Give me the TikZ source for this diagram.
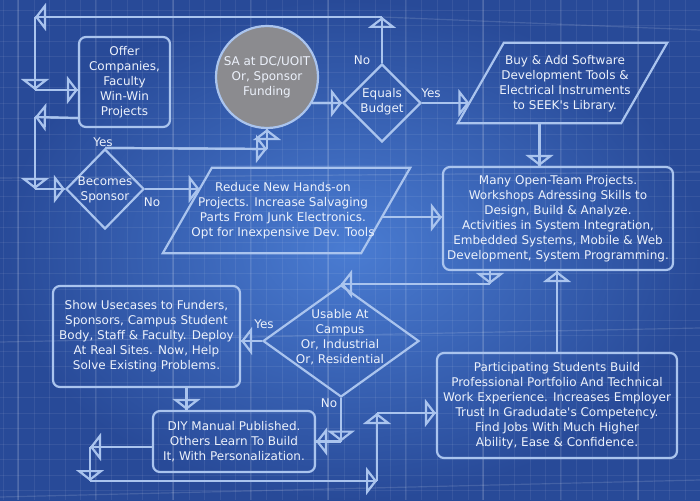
\documentclass[tikz,border=0pt]{standalone}
\usepackage{fontspec}
\setmainfont{DejaVu Sans}
\usetikzlibrary{shapes.geometric,arrows.meta,calc}
\definecolor{lc}{RGB}{170,196,238}
\definecolor{tc}{RGB}{236,241,251}
\definecolor{bgin}{RGB}{74,124,210}
\definecolor{bgout}{RGB}{40,74,152}
\definecolor{circfill}{RGB}{139,139,143}
\begin{document}
\begin{tikzpicture}[x=1pt,y=-1pt,
  every node/.style={text=tc,font=\fontsize{12}{15}\selectfont,align=center,inner sep=0pt},
  box/.style={draw=lc,line width=2.2pt,rounded corners=7pt},
  dia/.style={draw=lc,line width=2.2pt,diamond},
  parabody/.style={draw=none},
  paraline/.style={draw=lc,line width=2.2pt,line join=miter},
  conn/.style={draw=lc,line width=2.2pt,postaction={draw=lc,line width=2.2pt,-{Triangle[open,length=11pt,width=28pt]}}},
  gridmin/.style={white,opacity=0.07,line width=0.8pt},
  gridmaj/.style={white,opacity=0.13,line width=1.2pt},
]
\useasboundingbox (0,0) rectangle (700,500);
\shade[inner color=bgin,outer color=bgout] (0,0) rectangle (700,500);
\foreach \x in {3,18.5,...,700} \draw[gridmin] (\x,0) -- (\x,500);
\foreach \y in {10,25.5,...,500} \draw[gridmin] (0,\y) -- (700,\y);
\foreach \x in {18,95.5,...,700} \draw[gridmaj] (\x,0) -- (\x,500);
\draw[gridmaj] (0,178) -- (700,172);
\draw[gridmaj] (0,342) -- (700,328);
\draw[gridmaj] (382,17) -- (700,30);
\draw[gridmaj] (0,497) -- (700,480);

% nodes
\node[box,minimum width=91pt,minimum height=90pt] (offer) at (124.5,82) {Offer\\Companies,\\Faculty\\Win-Win\\Projects};
\node[circle,draw=lc,line width=2.2pt,fill=circfill,minimum size=102pt] (sa) at (267,77) {SA at DC/UOIT\\Or, Sponsor\\Funding};
\node[dia,minimum width=78pt,minimum height=78pt] (eq) at (382,103) {};
\node (eqt) at (382,102) {Equals\\Budget};

\node[parabody,minimum width=163pt,minimum height=80pt] (buy) at (562.5,83) {};
\coordinate (buyBL) at ($(buy.south west)+(-23,0)$);
\coordinate (buyBR) at ($(buy.south east)+(-23,0)$);
\coordinate (buyTR) at ($(buy.north east)+(23,0)$);
\coordinate (buyTL) at ($(buy.north west)+(23,0)$);
\draw[paraline] (buyBL) -- (buyBR) -- (buyTR) -- (buyTL) -- cycle;
\node (buyt) at (565,84) {Buy \& Add Software\\Development Tools \&\\Electrical Instruments\\to SEEK\textquotesingle s Library.};

\node[dia,minimum width=78pt,minimum height=80pt] (bec) at (105,189) {};
\node (bect) at (105,190) {Becomes\\Sponsor};

\node[parabody,minimum width=198pt,minimum height=85pt] (red) at (286.5,210.5) {};
\coordinate (redBL) at ($(red.south west)+(-24.5,0)$);
\coordinate (redBR) at ($(red.south east)+(-24.5,0)$);
\coordinate (redTR) at ($(red.north east)+(24.5,0)$);
\coordinate (redTL) at ($(red.north west)+(24.5,0)$);
\draw[paraline] (redBL) -- (redBR) -- (redTR) -- (redTL) -- cycle;
\node (redt) at (283,210.5) {Reduce New Hands-on\\Projects. Increase Salvaging\\Parts From Junk Electronics.\\Opt for Inexpensive Dev. Tools};

\node[box,minimum width=230pt,minimum height=103pt] (many) at (558,218.5) {Many Open-Team Projects.\\Workshops Adressing Skills to\\Design, Build \& Analyze.\\Activities in System Integration,\\Embedded Systems, Mobile \& Web\\Development, System Programming.};
\node[box,minimum width=187pt,minimum height=101pt] (show) at (146.5,336.5) {Show Usecases to Funders,\\Sponsors, Campus Student\\Body, Staff \& Faculty. Deploy\\At Real Sites. Now, Help\\Solve Existing Problems.};
\node[dia,minimum width=156pt,minimum height=112pt] (use) at (341,341) {};
\node (uset) at (340,337) {Usable At\\Campus\\Or, Industrial\\Or, Residential};
\node[box,minimum width=240pt,minimum height=105pt] (part) at (557,405.5) {Participating Students Build\\Professional Portfolio And Technical\\Work Experience. Increases Employer\\Trust In Gradudate\textquotesingle s Competency.\\Find Jobs With Much Higher\\Ability, Ease \& Confidence.};
\node[box,minimum width=162pt,minimum height=61pt] (diy) at (234,441.5) {DIY Manual Published.\\Others Learn To Build\\It, With Personalization.};

% labels
\node (l1) at (362,60) {No};
\node (l2) at (431,93) {Yes};
\node (l3) at (103,142) {Yes};
\node (l4) at (152,202) {No};
\node (l5) at (264,324) {Yes};
\node (l6) at (329,403) {No};

% connectors
\coordinate (t1) at (382,17);
\coordinate (t2) at (35,17);
\coordinate (t3) at (35,90);
\draw[conn] (eq.north) -- (t1);
\draw[conn] (t1) -- (t2);
\draw[conn] (t2) -- (t3);
\draw[conn] (t3) -- (t3 -| offer.west);

\coordinate (o1) at ($(offer.south west)+(0,-10)$);
\coordinate (o2) at (35,117);
\coordinate (o3) at (35,189);
\draw[conn] (o1) -- (o2);
\draw[conn] (o2) -- (o3);
\draw[conn] (o3) -- (bec.west);

\coordinate (y1) at (267,149);
\draw[conn] (bec.north) -- (y1);
\draw[conn] (y1) -- (sa.south);

\coordinate (r1) at ($(redBL)!0.75!(redTL)$);
\draw[conn] (bec.east) -- (bec.east -| r1);

\draw[conn] (sa.-30.65) -- (eq.west);
\coordinate (b1) at ($(buyBL)!0.25!(buyTL)$);
\draw[conn] (eq.east) -- (eq.east -| b1);
\coordinate (b2) at ($(buyBL)!0.5!(buyBR)$);
\draw[conn] (b2) -- (b2 |- many.north);

\coordinate (r2) at ($(redBR)!0.42!(redTR)$);
\draw[conn] (r2) -- (r2 -| many.west);

\coordinate (m1) at ($(many.south)+(-68,0)$);
\coordinate (m2) at (m1 |- use.north);
\draw[conn] (m1) -- (m2);
\draw[conn] (m2) -- (use.north);

\draw[conn] (part.north) -- (part.north |- many.south);
\draw[conn] (use.west) -- (use.west -| show.east);

\coordinate (s1) at ($(show.south)+(40,0)$);
\draw[conn] (s1) -- (s1 |- diy.north);

\coordinate (u1) at (use.south |- diy.east);
\draw[conn] (use.south) -- (u1);
\draw[conn] (u1) -- (diy.east);

\coordinate (d1) at ($(diy.west)+(0,5.5)$);
\coordinate (d2) at (90,447);
\coordinate (d3) at (90,481);
\coordinate (d4) at (377,481);
\coordinate (d5) at (377,413);
\draw[conn] (d1) -- (d2);
\draw[conn] (d2) -- (d3);
\draw[conn] (d3) -- (d4);
\draw[conn] (d4) -- (d5);
\draw[conn] (d5) -- (d5 -| part.west);
\end{tikzpicture}
\end{document}
